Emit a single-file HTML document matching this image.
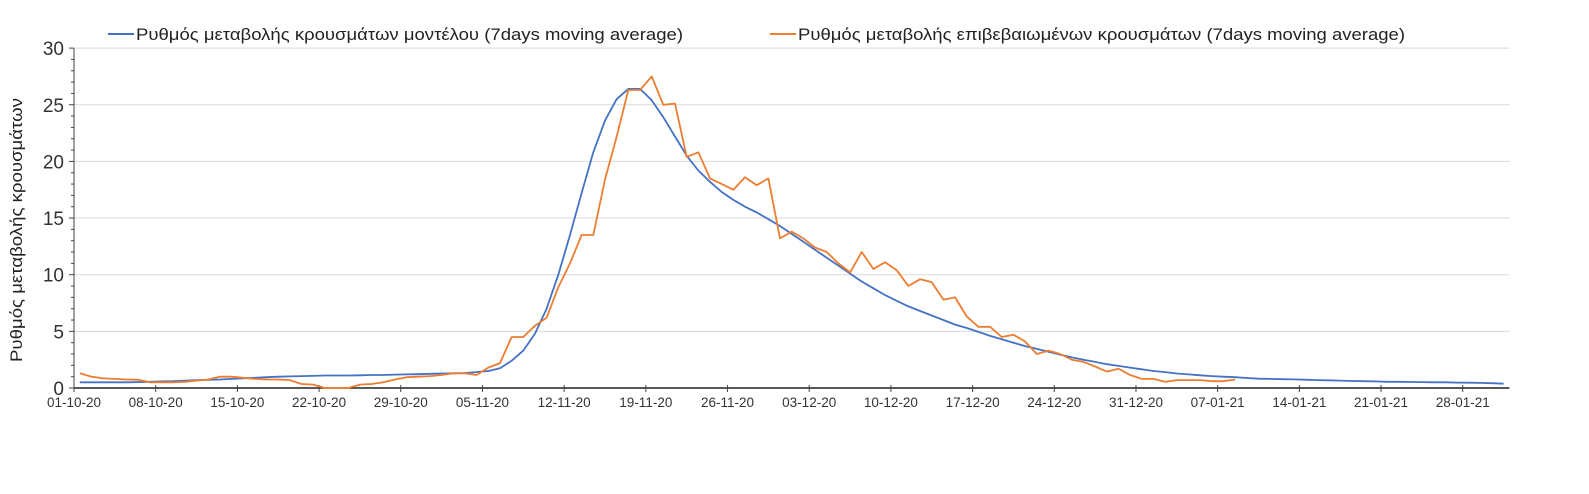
<!DOCTYPE html>
<html><head><meta charset="utf-8"><style>
body{margin:0;background:#fff;}
svg{display:block;font-family:"Liberation Sans",sans-serif;}
</style></head><body>
<svg id="chart" width="1589" height="494" viewBox="0 0 1589 494">
<g id="grid"></g>
<g id="yaxis"></g>
<g id="xaxis"></g>
<g id="series"></g>
<text transform="translate(22,230) rotate(-90)" text-anchor="middle" font-size="17" textLength="264" lengthAdjust="spacingAndGlyphs" fill="#222">Ρυθμός μεταβολής κρουσμάτων</text>
<g>
<line x1="108" y1="34" x2="134" y2="34" stroke="#4472C4" stroke-width="2"/>
<text x="136" y="40" font-size="17" textLength="547" lengthAdjust="spacingAndGlyphs" fill="#222">Ρυθμός μεταβολής κρουσμάτων μοντέλου (7days moving average)</text>
<line x1="770" y1="34" x2="796" y2="34" stroke="#ED7D31" stroke-width="2"/>
<text x="798" y="40" font-size="17" textLength="607" lengthAdjust="spacingAndGlyphs" fill="#222">Ρυθμός μεταβολής επιβεβαιωμένων κρουσμάτων (7days moving average)</text>
</g>
</svg>
<script>
const xTickLabels=["01-10-20","08-10-20","15-10-20","22-10-20","29-10-20","05-11-20","12-11-20","19-11-20","26-11-20","03-12-20","10-12-20","17-12-20","24-12-20","31-12-20","07-01-21","14-01-21","21-01-21","28-01-21"];
const yTicks=[0,5,10,15,20,25,30];
const modelSeries=[0.5,0.5,0.5,0.5,0.5,0.52,0.55,0.58,0.6,0.65,0.7,0.72,0.75,0.8,0.85,0.9,0.95,1.0,1.02,1.05,1.07,1.1,1.1,1.1,1.12,1.15,1.15,1.18,1.2,1.22,1.25,1.28,1.3,1.32,1.4,1.5,1.75,2.4,3.3,4.8,7.0,10.0,13.5,17.2,20.8,23.6,25.5,26.4,26.4,25.4,23.9,22.2,20.5,19.2,18.2,17.3,16.6,16.0,15.5,14.9,14.3,13.6,12.9,12.2,11.5,10.8,10.1,9.4,8.8,8.2,7.7,7.2,6.8,6.4,6.0,5.6,5.3,4.95,4.6,4.3,4.0,3.7,3.45,3.2,2.95,2.7,2.5,2.3,2.1,1.95,1.8,1.65,1.5,1.4,1.28,1.2,1.12,1.05,1.0,0.95,0.88,0.82,0.8,0.78,0.76,0.73,0.7,0.68,0.65,0.62,0.6,0.58,0.55,0.55,0.53,0.52,0.5,0.5,0.48,0.47,0.45,0.42,0.38];
const confirmedSeries=[1.3,1.0,0.85,0.8,0.75,0.72,0.5,0.5,0.5,0.55,0.65,0.75,1.0,1.0,0.9,0.8,0.75,0.75,0.7,0.35,0.3,0,0,0,0.3,0.35,0.5,0.75,0.95,1.0,1.05,1.15,1.3,1.3,1.15,1.8,2.2,4.5,4.5,5.5,6.2,8.9,11.0,13.5,13.5,18.4,22.2,26.3,26.3,27.5,25.0,25.1,20.4,20.8,18.5,18.0,17.5,18.6,17.9,18.5,13.2,13.8,13.2,12.4,12.0,11.0,10.2,12.0,10.5,11.1,10.4,9.0,9.6,9.35,7.8,8.0,6.3,5.4,5.4,4.5,4.7,4.1,3.0,3.3,3.0,2.5,2.3,1.9,1.45,1.7,1.15,0.8,0.8,0.55,0.7,0.7,0.7,0.6,0.6,0.75];
const NS='http://www.w3.org/2000/svg';
const X0=74,DAY=11.67,NCAT=123,Y0=388,YPX=11.33;
const xPos=i=>X0+DAY*(i+0.5);
const yPos=v=>Y0-v*YPX;
function mk(tag,attrs,parent){const e=document.createElementNS(NS,tag);for(const k in attrs)e.setAttribute(k,attrs[k]);parent.appendChild(e);return e;}
const grid=document.getElementById('grid'),ya=document.getElementById('yaxis'),xa=document.getElementById('xaxis'),se=document.getElementById('series');
const xEnd=X0+DAY*NCAT;
yTicks.forEach(v=>{
 if(v>0){const g=mk('line',{x1:X0,x2:xEnd,y1:yPos(v),y2:yPos(v),stroke:'#d9d9d9','stroke-width':1},grid);
 
 }
 const t=mk('text',{x:X0-10,y:yPos(v)+7,'text-anchor':'end','font-size':19,fill:'#333'},ya);
 t.textContent=v;
 
 
});
for(let v=0;v<=30;v++){const m=mk('line',{x1:X0-(v%5==0?5:3),x2:X0,y1:yPos(v),y2:yPos(v),stroke:'#444','stroke-width':1},ya);
 
 }
const yl=mk('line',{x1:X0,x2:X0,y1:yPos(30),y2:Y0,stroke:'#444','stroke-width':1},ya);


const xl=mk('line',{x1:X0,x2:xEnd,y1:Y0,y2:Y0,stroke:'#222','stroke-width':1.5},xa);


xTickLabels.forEach((lab,k)=>{
 const x=X0+DAY*7*k;
 const m=mk('line',{x1:x,x2:x,y1:Y0-3,y2:Y0+4,stroke:'#444','stroke-width':1},xa);
 
 
 const t=mk('text',{x:x,y:Y0+19,'text-anchor':'middle','font-size':13.5,fill:'#333'},xa);
 t.textContent=lab;
 
 
});
function line(data,color,name){
 const p=mk('polyline',{points:data.map((v,i)=>xPos(i).toFixed(1)+','+yPos(v).toFixed(1)).join(' '),fill:'none',stroke:color,'stroke-width':1.8,'stroke-linejoin':'round'},se);
 
 
}
line(modelSeries,'#4472C4','model-line');
line(confirmedSeries,'#ED7D31','confirmed-line');
</script>
</body></html>
